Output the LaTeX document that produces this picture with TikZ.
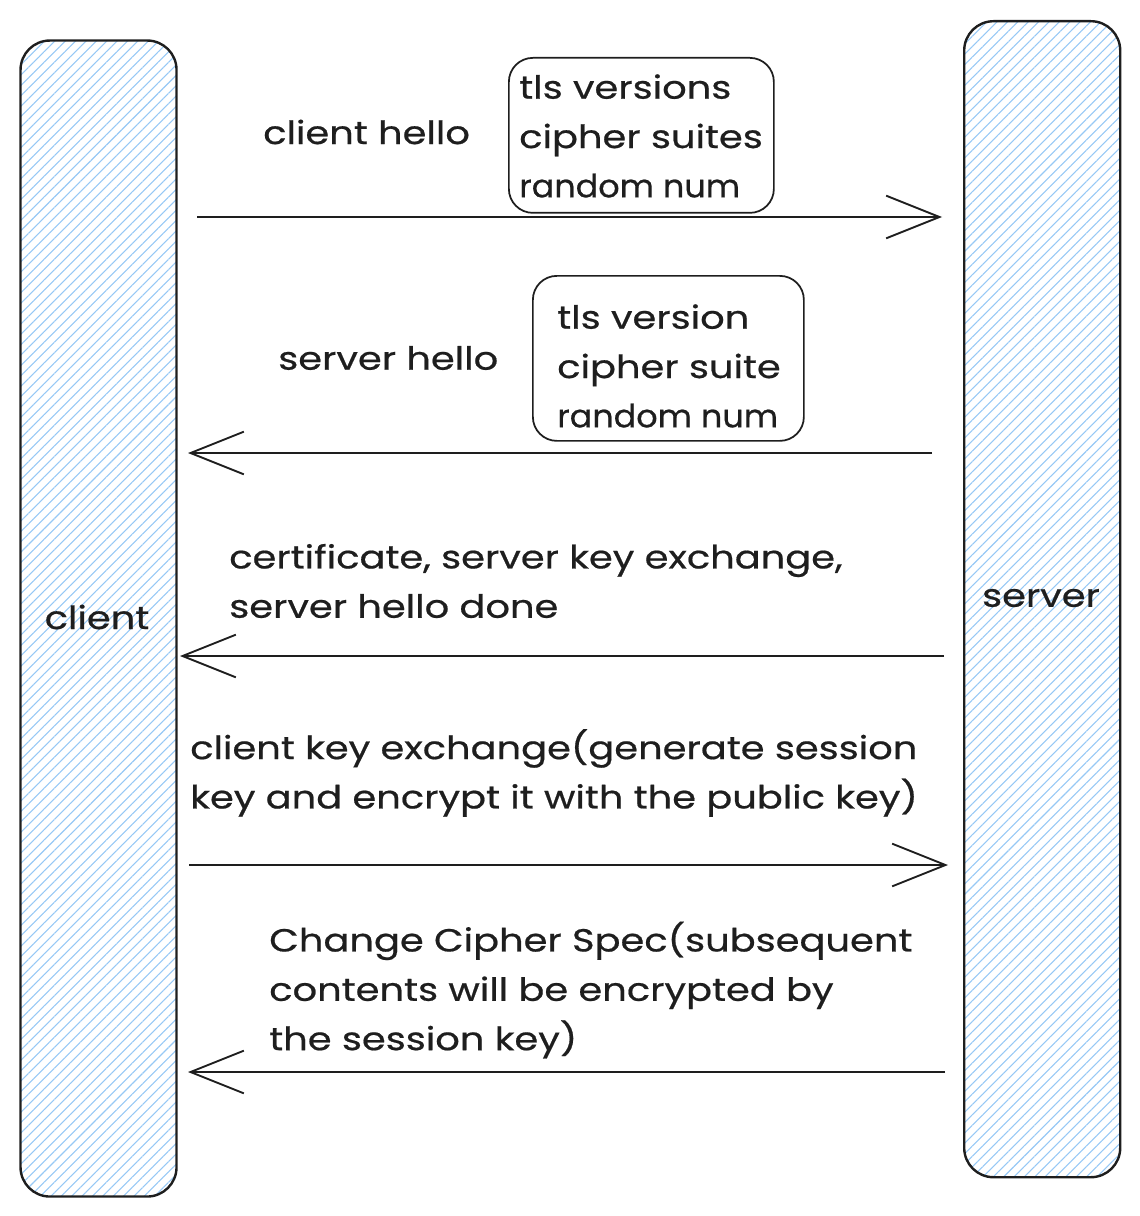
\documentclass[tikz,border=0pt]{standalone}
\usepackage{fontspec}
\setmainfont[FakeStretch=1.2,FakeBold=0.6]{Poppins}
\usetikzlibrary{arrows.meta,patterns.meta}
\definecolor{hatch}{RGB}{150,200,245}
\definecolor{ink}{RGB}{30,30,30}
\newcommand{\narrowtxt}[1]{\scalebox{0.87}[1]{#1}}
\tikzset{
  lane/.style={draw=ink, line width=1.8pt, rounded corners=22pt,
    pattern={Lines[angle=45,distance=5.5pt,line width=0.8pt]}, pattern color=hatch},
  msg/.style={draw=ink, line width=1.4pt, -{Straight Barb[length=40pt,width=32pt,line width=1.4pt]}},
  lbl/.style={anchor=west, inner sep=0pt, font=\fontsize{24}{37}\selectfont, text=ink, align=left},
  infobox/.style={draw=ink, line width=1.3pt, rounded corners=18pt},
  lanelbl/.style={inner sep=0pt, font=\fontsize{24}{37}\selectfont, text=ink}
}
\begin{document}
\begin{tikzpicture}[x=0.75pt,y=-0.75pt]
\useasboundingbox (0,0) rectangle (1139,1216);
% lanes
\node[lane, minimum width=156*0.75pt, minimum height=1156*0.75pt, anchor=north west] (client) at (20,40) {};
\node[lane, minimum width=156*0.75pt, minimum height=1156*0.75pt, anchor=north west] (server) at (963,20) {};
\node[lanelbl] (clientlbl) at (97,617) {client};
\node[lanelbl] (serverlbl) at (1041,598) {server};
% coordinates for arrows
\coordinate (a1s) at (197,217); \coordinate (a1e) at (942,217);
\coordinate (a2s) at (932,453); \coordinate (a2e) at (188,453);
\coordinate (a3s) at (944,656); \coordinate (a3e) at (180,656);
\coordinate (a4s) at (189,865); \coordinate (a4e) at (948,865);
\coordinate (a5s) at (945,1072); \coordinate (a5e) at (188,1072);
\draw[msg] (a1s) -- (a1e);
\draw[msg] (a2s) -- (a2e);
\draw[msg] (a3s) -- (a3e);
\draw[msg] (a4s) -- (a4e);
\draw[msg] (a5s) -- (a5e);
% labels
\node[lbl] (l1) at (263,132) {client hello};
\node[infobox, minimum width=265*0.75pt, minimum height=155*0.75pt, anchor=north west] (b1) at (508,57) {};
\node[lbl] (b1t) at (519,136) {tls versions\\cipher suites\\\narrowtxt{random num}};
\node[lbl] (l2) at (278,358) {server hello};
\node[infobox, minimum width=271*0.75pt, minimum height=165*0.75pt, anchor=north west] (b2) at (532,275) {};
\node[lbl] (b2t) at (557,366) {tls version\\cipher suite\\\narrowtxt{random num}};
\node[lbl] (l3) at (229,581) {certificate, server key exchange,\\server hello done};
\node[lbl] (l4) at (190,773) {client key exchange(generate session\\key and encrypt it with the public key)};
\node[lbl] (l5) at (269,990) {Change Cipher Spec(subsequent\\contents will be encrypted by\\the session key)};
\end{tikzpicture}
\end{document}
